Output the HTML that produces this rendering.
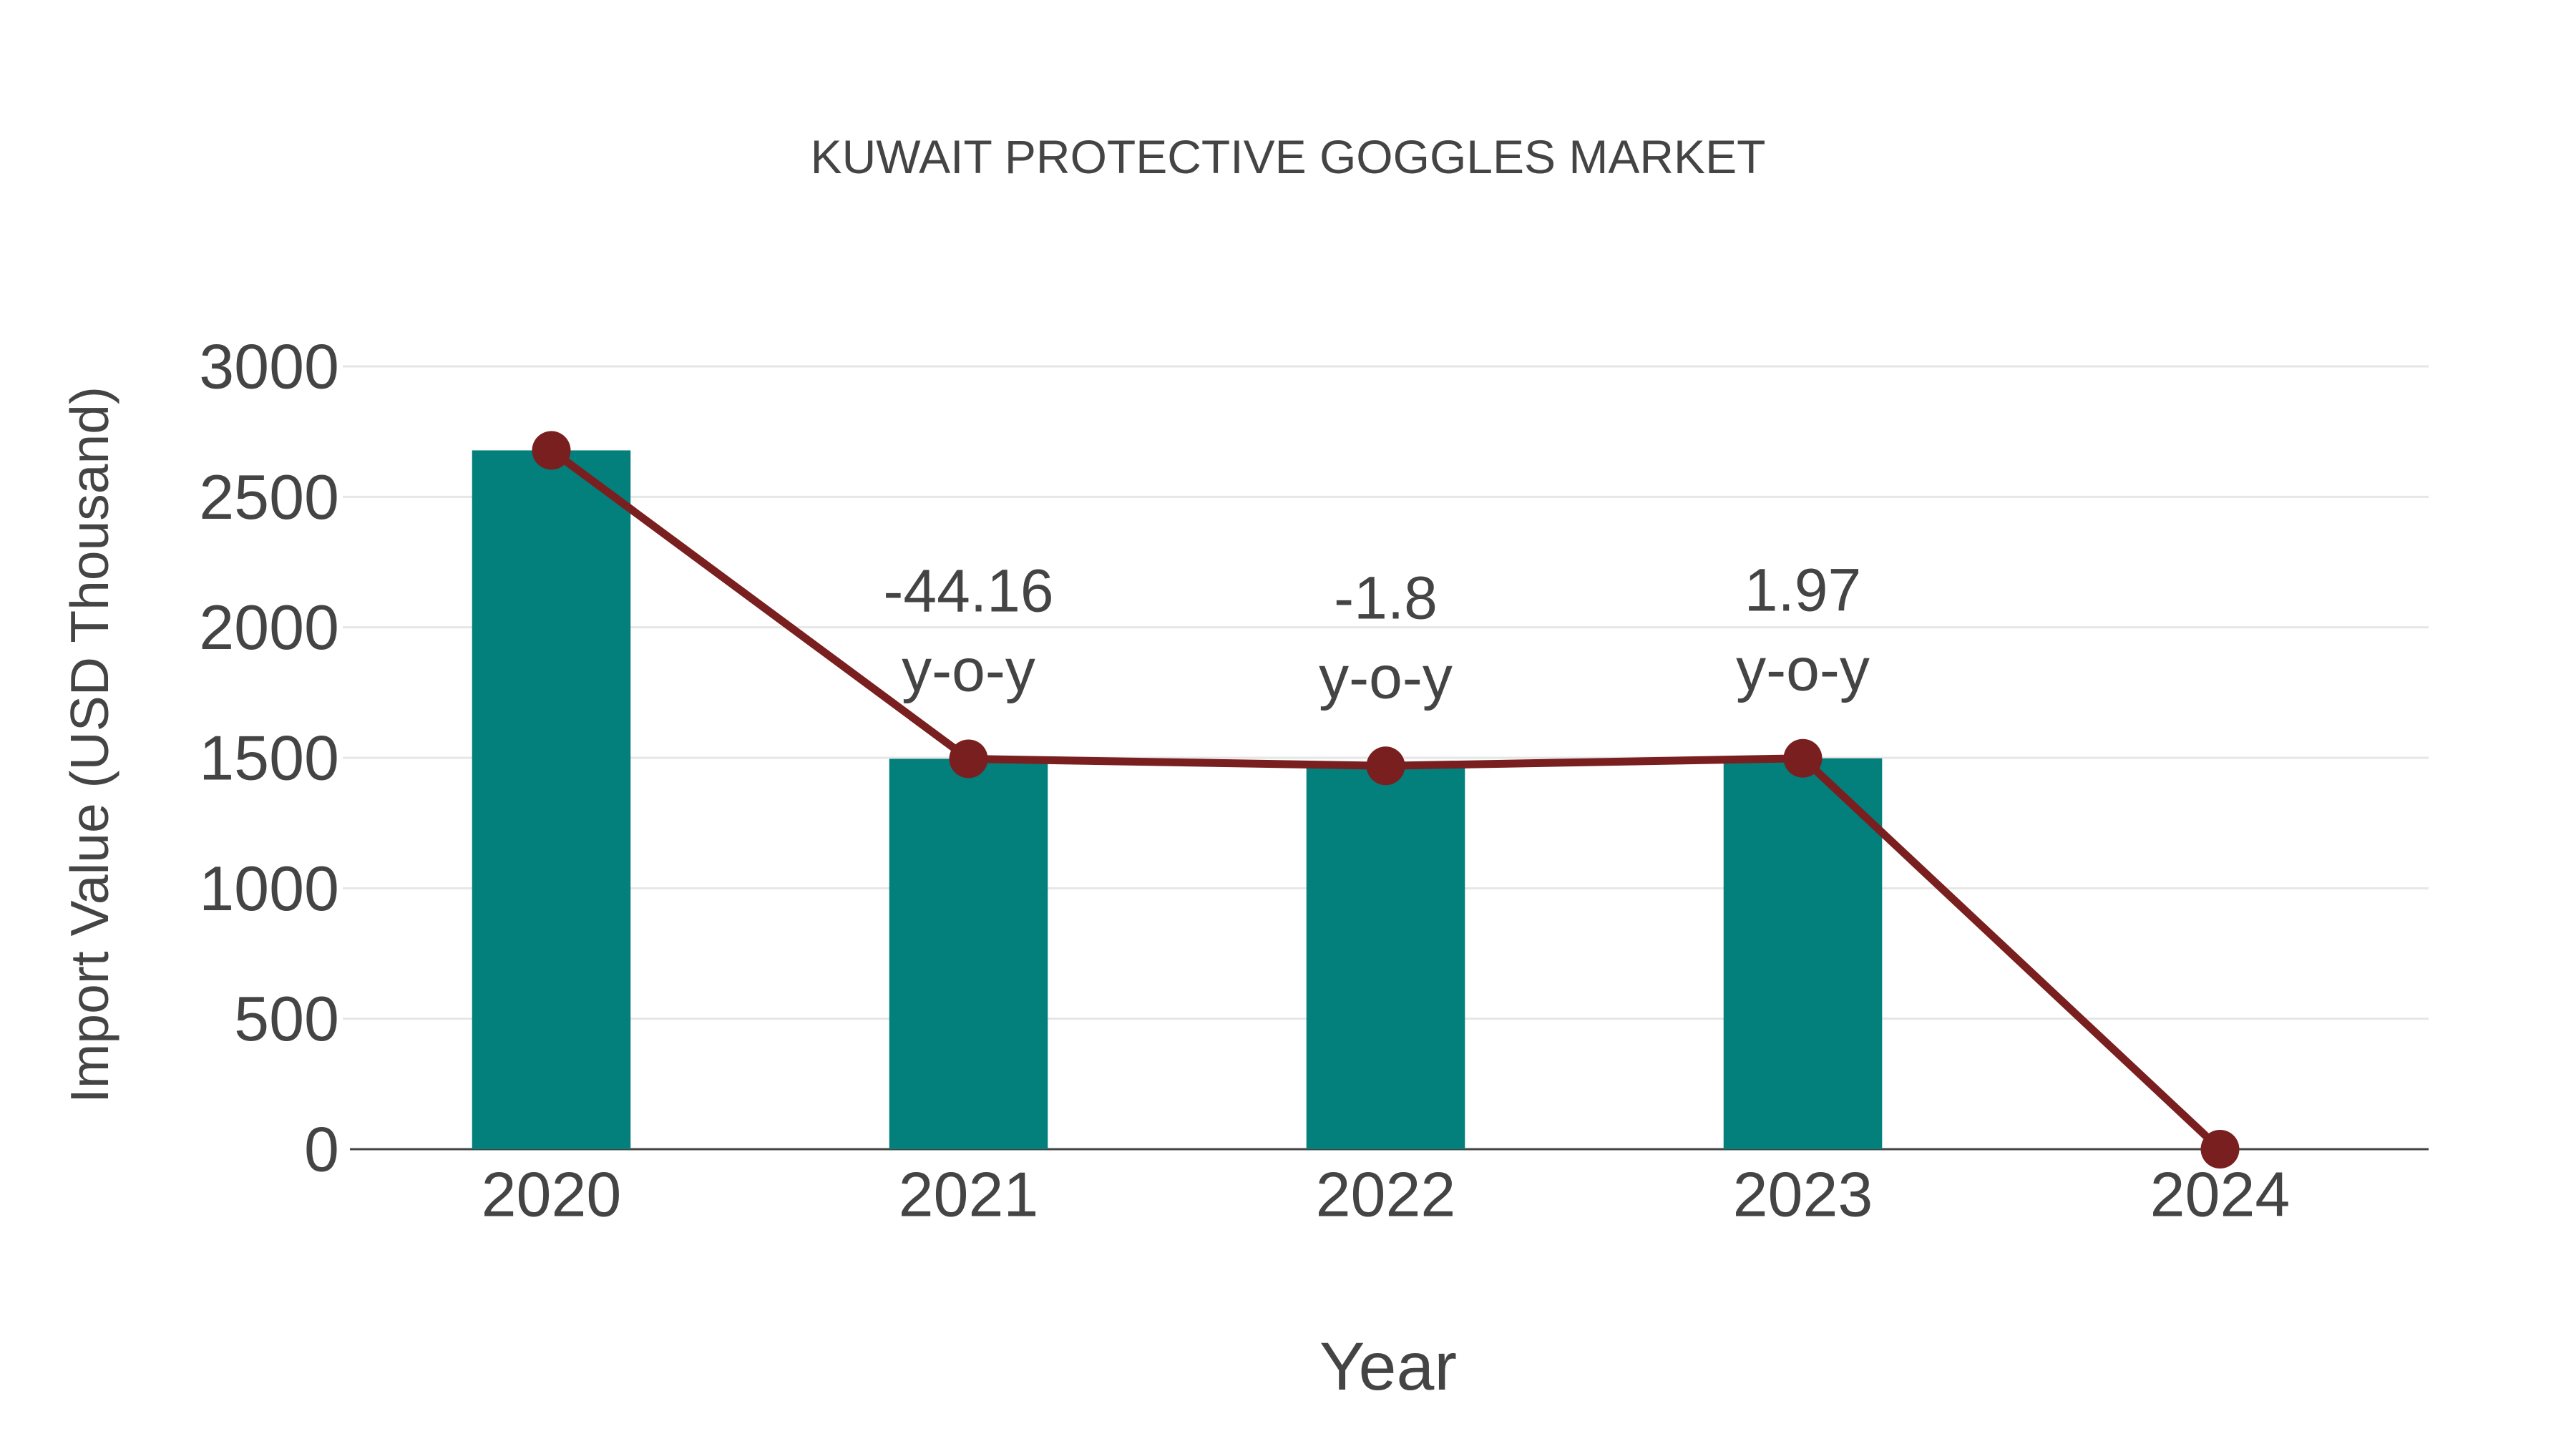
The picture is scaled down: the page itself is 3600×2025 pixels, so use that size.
<!DOCTYPE html>
<html><head><meta charset="utf-8"><style>
body{margin:0;background:#fff;}
svg{display:block;font-family:"Liberation Sans",sans-serif;}
</style></head><body>
<svg id="chart" width="3600" height="2025" viewBox="0 0 3600 2025" xmlns="http://www.w3.org/2000/svg">
<text x="1800" y="219" font-size="66" fill="#444" text-anchor="middle" dominant-baseline="central">KUWAIT PROTECTIVE GOGGLES MARKET</text>
<g id="grid"></g><g id="bars"></g><g id="line"></g><g id="labels"></g>
<text transform="translate(125,1041) rotate(-90)" font-size="75" fill="#444" text-anchor="middle" dominant-baseline="central">Import Value (USD Thousand)</text>
<text x="1940" y="1910" font-size="95" fill="#444" text-anchor="middle" dominant-baseline="central">Year</text>
</svg>
<script>
const categories = ["2020","2021","2022","2023","2024"];
const values = [2678, 1496, 1469, 1498, 0];
const yoyLabels = ["", "-44.16", "-1.8", "1.97", ""];
const yTicks = [0, 500, 1000, 1500, 2000, 2500, 3000];

const NS = "http://www.w3.org/2000/svg";
const X0 = 479, X1 = 3394, Y0 = 1606, Y3000 = 512;
const step = (X1 - X0) / categories.length;
const xPos = i => X0 + step * (i + 0.5);
const yPos = v => Y0 - (v / 3000) * (Y0 - Y3000);
function mk(tag, attrs, parent) { const e = document.createElementNS(NS, tag); for (const k in attrs) e.setAttribute(k, attrs[k]); parent.appendChild(e); return e; }
const grid = document.getElementById('grid'), bars = document.getElementById('bars'), line = document.getElementById('line'), labels = document.getElementById('labels');

yTicks.forEach(t => {
  if (t > 0) {
    const g = mk('line', {x1: X0, x2: X1, y1: yPos(t), y2: yPos(t), stroke: '#e6e6e6', 'stroke-width': 3}, grid);
    
    
  }
  const tl = mk('text', {x: 474, y: yPos(t), 'font-size': 88, fill: '#444', 'text-anchor': 'end', 'dominant-baseline': 'central'}, grid);
  tl.textContent = t;
  
  
});
const ax = mk('line', {x1: 489, x2: X1, y1: Y0, y2: Y0, stroke: '#444', 'stroke-width': 3}, grid);



const bw = step * 0.38;
categories.forEach((c, i) => {
  const v = values[i];
  if (v > 0) {
    const r = mk('rect', {x: xPos(i) - bw / 2, y: yPos(v), width: bw, height: Y0 - yPos(v), fill: '#037f7c'}, bars);
    
    
  }
  const xl = mk('text', {x: xPos(i), y: 1669, 'font-size': 88, fill: '#444', 'text-anchor': 'middle', 'dominant-baseline': 'central'}, labels);
  xl.textContent = c;
  
  
  if (yoyLabels[i]) {
    const a = mk('text', {x: xPos(i), y: yPos(v) - 235, 'font-size': 84, fill: '#444', 'text-anchor': 'middle', 'dominant-baseline': 'central'}, labels);
    a.textContent = yoyLabels[i];
    
    
    const b = mk('text', {x: xPos(i), y: yPos(v) - 124, 'font-size': 84, fill: '#444', 'text-anchor': 'middle', 'dominant-baseline': 'central'}, labels);
    b.textContent = 'y-o-y';
    
    
  }
});

const pts = values.map((v, i) => xPos(i) + ',' + yPos(v)).join(' ');
const pl = mk('polyline', {points: pts, fill: 'none', stroke: '#7a1f1f', 'stroke-width': 11, 'stroke-linejoin': 'round'}, line);


values.forEach((v, i) => {
  const c = mk('circle', {cx: xPos(i), cy: yPos(v), r: 27, fill: '#7a1f1f'}, line);
  
  
});
</script>
</body></html>
